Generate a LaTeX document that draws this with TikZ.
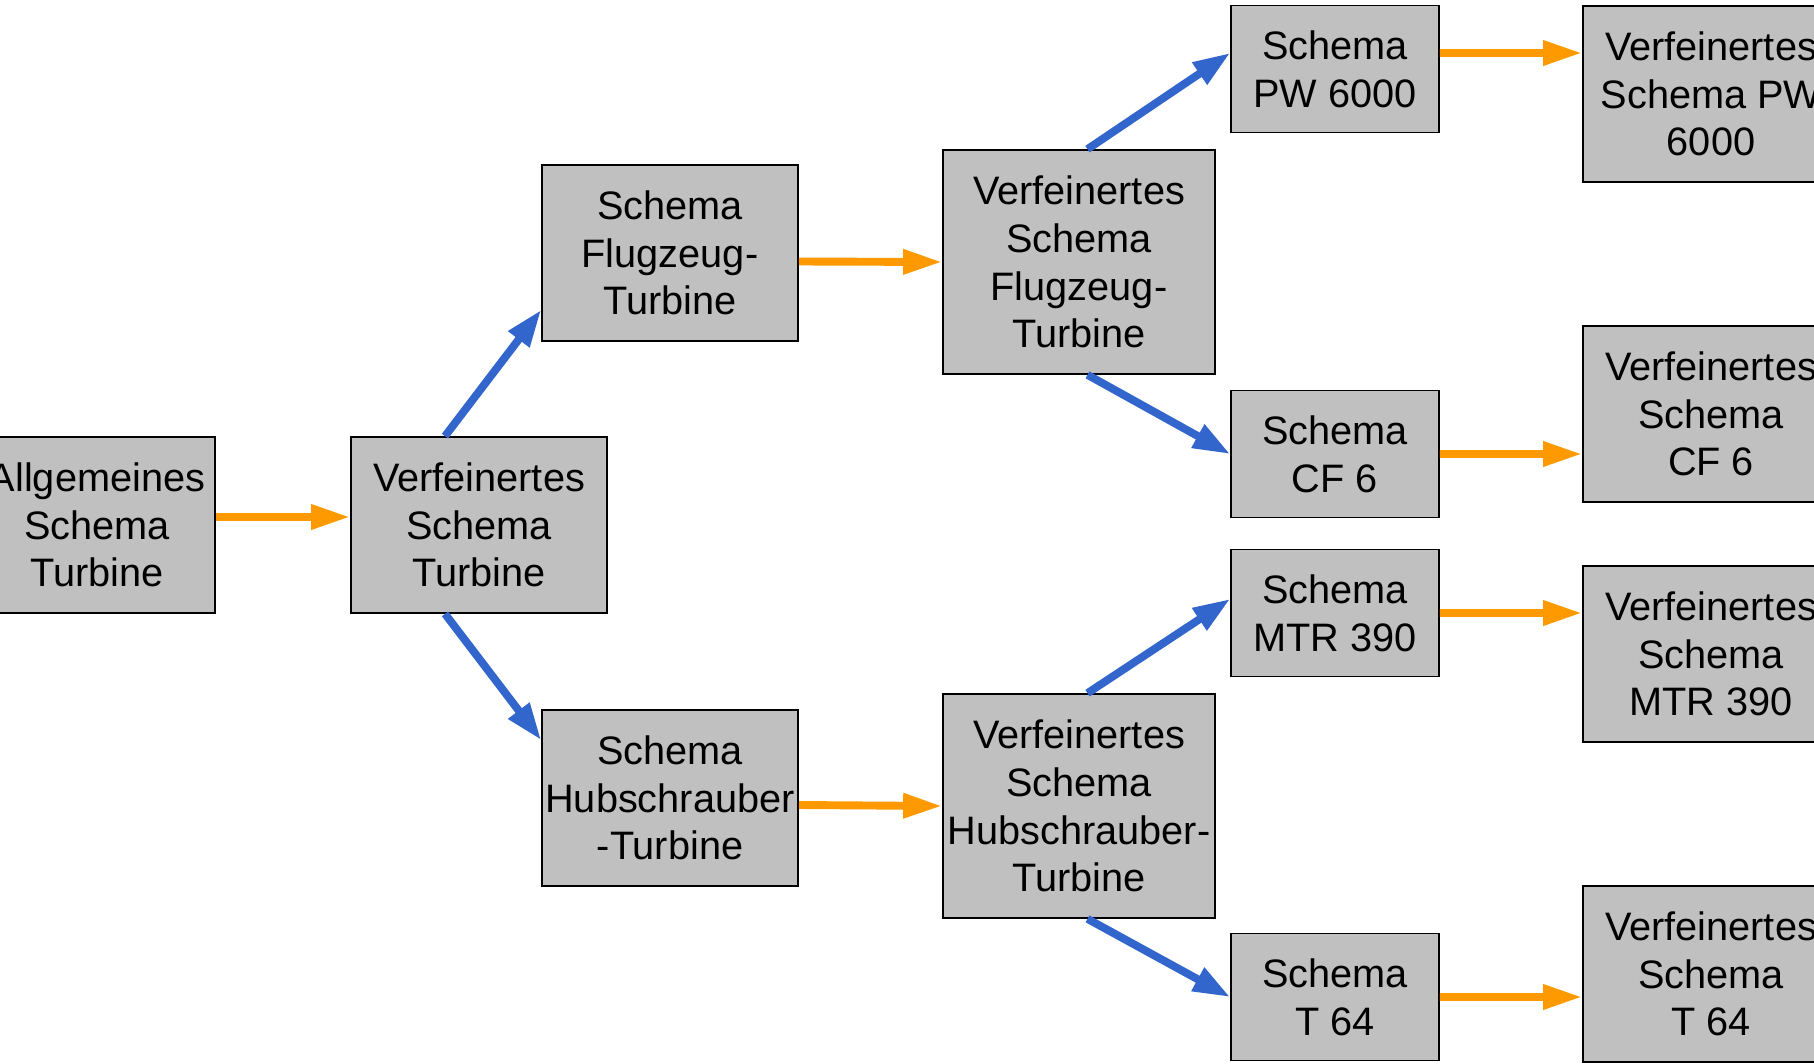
\documentclass[tikz,border=0pt]{standalone}
\usepackage{fontspec}
\setmainfont{Liberation Sans}
\usetikzlibrary{arrows.meta}
\definecolor{boxgray}{HTML}{C0C0C0}
\definecolor{arrorange}{HTML}{FF9900}
\definecolor{arrblue}{HTML}{3366CC}

\begin{document}
\begin{tikzpicture}[x=0.02cm,y=-0.02cm,
		base node/.style={rectangle,draw,fill=boxgray,align=center,inner sep=1pt,line width=1pt,font=\fontsize{22.6}{27.2}\selectfont},
		mid node/.style={base node,minimum width=5.12cm,minimum height=3.52cm},
		tall node/.style={base node,minimum width=5.44cm,minimum height=4.48cm},
		small node/.style={base node,minimum width=4.16cm,minimum height=2.54cm},
		orange edge/.style={draw=arrorange,line width=4.5pt,-{Triangle[length=0.78cm,width=0.47cm]}},
		blue edge/.style={draw=arrblue,line width=4.5pt,-{Triangle[length=0.74cm,width=0.5cm]}}]
		\useasboundingbox (0,0) rectangle (1814,1064);
		\node[base node,minimum width=4.72cm,minimum height=3.52cm] (allg) at (97,525) {Allgemeines\\Schema\\Turbine};
		\node[mid node] (vt) at (479,525) {Verfeinertes\\Schema\\Turbine};
		\node[mid node] (sf) at (670,253) {Schema\\Flugzeug-\\Turbine};
		\node[mid node] (sh) at (670,798) {Schema\\Hubschrauber\\-Turbine};
		\node[tall node] (vf) at (1079,262) {Verfeinertes\\Schema\\Flugzeug-\\Turbine};
		\node[tall node] (vh) at (1079,806) {Verfeinertes\\Schema\\Hubschrauber-\\Turbine};
		\node[small node] (pw) at (1335,69) {Schema\\PW 6000};
		\node[small node] (cf) at (1335,454) {Schema\\CF 6};
		\node[small node] (mtr) at (1335,613) {Schema\\MTR 390};
		\node[small node] (t64) at (1335,997) {Schema\\T 64};
		\node[mid node] (vpw) at (1711,94) {Verfeinertes\\Schema PW\\6000};
		\node[mid node] (vcf) at (1711,414) {Verfeinertes\\Schema\\CF 6};
		\node[mid node] (vmtr) at (1711,654) {Verfeinertes\\Schema\\MTR 390};
		\node[mid node] (vt64) at (1711,974) {Verfeinertes\\Schema\\T 64};
		% refinement steps
		\path
		([yshift=0.16cm]allg.east) edge[orange edge] ([yshift=0.16cm]vt.west)
		([yshift=-0.17cm]sf.east) edge[orange edge] (vf.west)
		([yshift=-0.14cm]sh.east) edge[orange edge] (vh.west)
		([yshift=0.32cm]pw.east) edge[orange edge] ([yshift=0.82cm]vpw.west)
		(cf.east) edge[orange edge] ([yshift=-0.8cm]vcf.west)
		(mtr.east) edge[orange edge] ([yshift=0.82cm]vmtr.west)
		(t64.east) edge[orange edge] ([yshift=-0.46cm]vt64.west);
		% specialisation
		\path
		([xshift=-0.68cm]vt.north) edge[blue edge] ([yshift=-1.14cm]sf.west)
		([xshift=-0.68cm]vt.south) edge[blue edge] ([yshift=1.16cm]sh.west)
		([xshift=0.17cm]vf.north) edge[blue edge] ([yshift=0.32cm]pw.west)
		([xshift=0.17cm]vf.south) edge[blue edge] (cf.west)
		([xshift=0.17cm]vh.north) edge[blue edge] ([yshift=0.28cm]mtr.west)
		([xshift=0.17cm]vh.south) edge[blue edge] (t64.west);
\end{tikzpicture}
\end{document}
